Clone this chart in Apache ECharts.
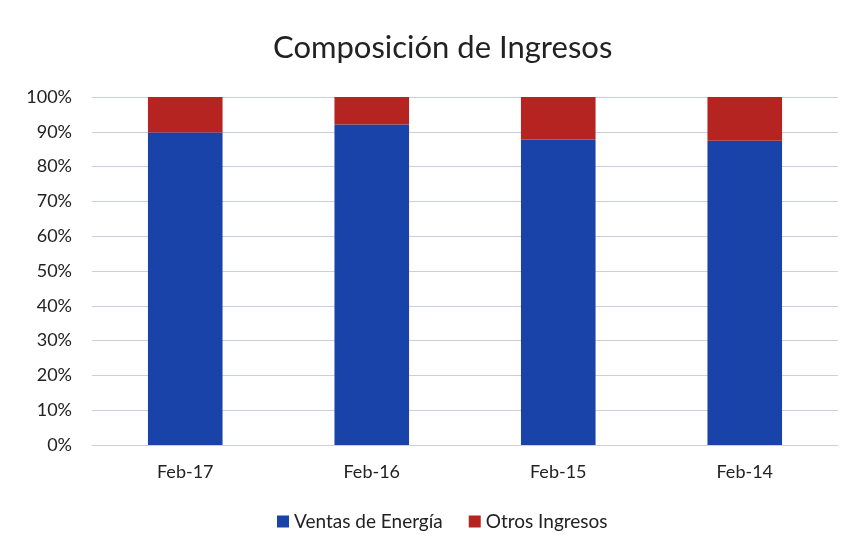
<!DOCTYPE html>
<html>
<head>
<meta charset="utf-8">
<script src="https://cdn.jsdelivr.net/npm/echarts@6/dist/echarts.min.js"></script>
<style>
  html, body { margin: 0; padding: 0; background: #fff; }
  #chart { width: 847px; height: 549px; }
</style>
</head>
<body>
<div id="chart"></div>
<script>
// categories and series (percent of total income)
const categories = ['Feb-17', 'Feb-16', 'Feb-15', 'Feb-14']
const ventasEnergia = [89.8, 92.1, 87.8, 87.4]
const otrosIngresos = [10.2, 7.9, 12.2, 12.6]
const seriesNames = ['Ventas de Energía', 'Otros Ingresos']
const colors = ['#1A43AA', '#B52420']

const myChart = echarts.init(document.getElementById('chart'))
const font = 'Lato, "Open Sans", sans-serif'

const option = {
  color: colors,
  textStyle: { fontFamily: font },
  title: {
    text: 'Composición de Ingresos',
    left: 268,
    top: 27,
    textStyle: { fontSize: 31, fontWeight: 'normal', color: '#222', fontFamily: font }
  },
  legend: {
    data: seriesNames,
    bottom: 13,
    left: 272,
    itemWidth: 12,
    itemHeight: 12,
    itemGap: 26,
    icon: 'rect',
    textStyle: { fontSize: 19, color: '#222', fontFamily: font }
  },
  grid: {
    left: 92,
    right: 9,
    top: 97,
    bottom: 104
  },
  xAxis: {
    type: 'category',
    data: categories,
    axisLine: { show: true, lineStyle: { color: '#c9cfe0' } },
    axisTick: { show: false },
    axisLabel: { fontSize: 18, color: '#222', margin: 18, fontFamily: font }
  },
  yAxis: {
    type: 'value',
    min: 0,
    max: 100,
    interval: 10,
    axisLine: { show: false },
    axisTick: { show: false },
    axisLabel: { fontSize: 18, color: '#222', margin: 20, formatter: v => v + '%', fontFamily: font },
    splitLine: { lineStyle: { color: '#c9cfe0' } }
  },
  series: [
    {
      name: seriesNames[0],
      type: 'bar',
      stack: 'total',
      barWidth: '40%',
      data: ventasEnergia
    },
    {
      name: seriesNames[1],
      type: 'bar',
      stack: 'total',
      barWidth: '40%',
      data: otrosIngresos
    }
  ]
}
myChart.setOption(option)
</script>
</body>
</html>
